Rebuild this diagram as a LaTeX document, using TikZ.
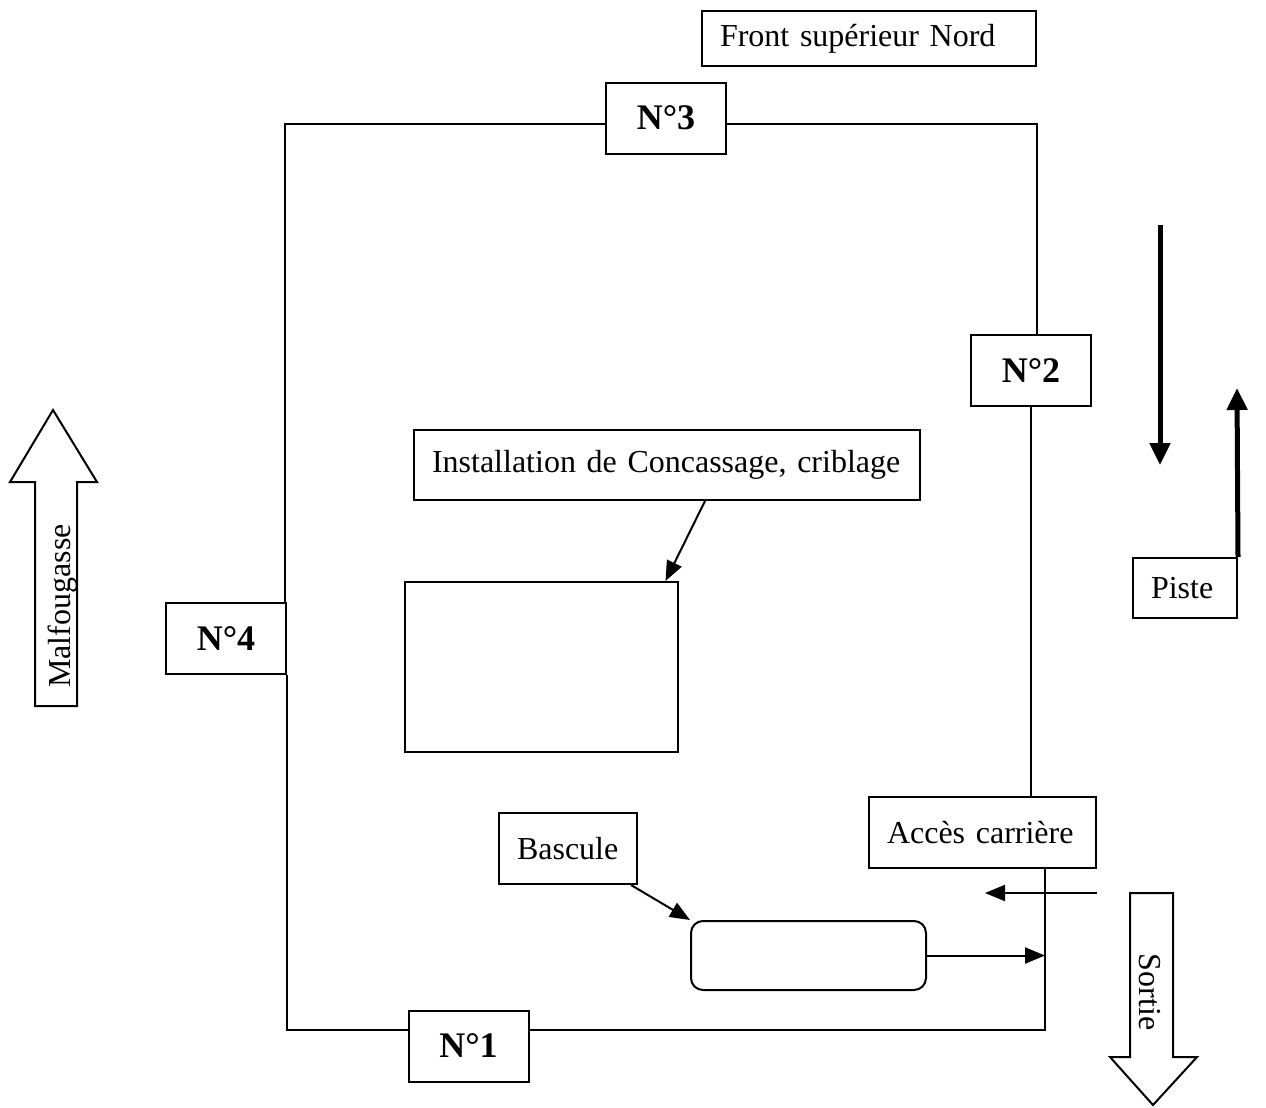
\documentclass[tikz,border=0pt]{standalone}
\usepackage{fontspec}
\setmainfont{Liberation Serif}
\usetikzlibrary{positioning, arrows.meta}

\begin{document}
\begin{tikzpicture}[
  x=1pt, y=-1pt,
  every node/.style={font=\fontsize{32}{38}\selectfont},
  box/.style={draw, line width=2pt, inner xsep=18pt, inner ysep=0pt, align=left},
  num/.style={draw, line width=2pt, font=\bfseries\fontsize{36}{42}\selectfont, minimum width=120pt, minimum height=71pt},
  wall/.style={line width=2pt},
  arr/.style={line width=2pt, -{Triangle[length=20pt, width=16pt]}},
  bigarr/.style={line width=5pt, -{Triangle[length=22pt, width=20pt]}}
]
\useasboundingbox (0,0) rectangle (1266,1108);

% Labels
\node[box, text width=298pt, minimum height=55pt] (front) at (869,39) {Front supérieur Nord};
\node[box, text width=470pt, minimum height=70pt] (install) at (667,465) {Installation de Concassage, criblage};
\node[box, text width=102pt, minimum height=71pt] (bascule) at (568,848.5) {Bascule};
\node[box, text width=191pt, minimum height=71pt] (acces) at (982.5,832.5) {Accès carrière};
\node[box, text width=68pt, minimum height=60pt] (piste) at (1185,588) {Piste};

% Fronts
\node[num] (n3) at (666,118) {N°3};
\node[num] (n2) at (1031,370.5) {N°2};
\node[num] (n4) at (226,638.5) {N°4};
\node[num] (n1) at (468.5,1046) {N°1};

% Plant and weighbridge
\node[draw, line width=2pt, minimum width=273pt, minimum height=170pt] (crusher) at (541.5,667) {};
\node[draw, line width=2pt, rounded corners=12pt, minimum width=235pt, minimum height=69pt] (pont) at (808.5,955.5) {};

% Quarry limit
\coordinate (nw) at (285,124);
\coordinate (ne) at (1037,124);
\coordinate (se) at (1045,1030);
\coordinate (sw) at (287,1030);
\draw[wall] (n3.west |- nw) -- (nw) -- (n4.north -| nw);
\draw[wall] (n3.east |- ne) -- (ne) -- (n2.north -| ne);
\draw[wall] (n2.south) -- (n2.south |- acces.north);
\draw[wall] (acces.south -| se) -- (se) -- (n1.east |- se);
\draw[wall] (n1.west |- sw) -- (sw) -- (n4.south -| sw);

% Connections
\draw[arr] ([xshift=38pt]install.south) -- ([xshift=124pt]crusher.north);
\draw[arr] ([xshift=-7pt]bascule.south east) -- (pont.north west);
\draw[arr] (pont.east) -- (pont.east -| se);
\coordinate (inR) at (1097,893);
\coordinate (inL) at (985,893);
\draw[arr] (inR) -- (inL);

% Track
\coordinate (downA) at (1160,225);
\coordinate (downB) at (1160,465);
\coordinate (upB) at (1237,388);
\draw[bigarr] (downA) -- (downB);
\draw[bigarr] (piste.north east) -- (upB);

% Directions
\draw[wall] (35,706) -- (35,482) -- (10,482) -- (53,410) -- (97,482) -- (77,482) -- (77,706) -- cycle;
\node[rotate=90] (malf) at (63,606) {Malfougasse};
\draw[wall] (1130,893) -- (1173,893) -- (1173,1057) -- (1197,1057) -- (1153,1105) -- (1110,1057) -- (1130,1057) -- cycle;
\node[rotate=-90] (sortie) at (1150,992) {Sortie};

\end{tikzpicture}
\end{document}
